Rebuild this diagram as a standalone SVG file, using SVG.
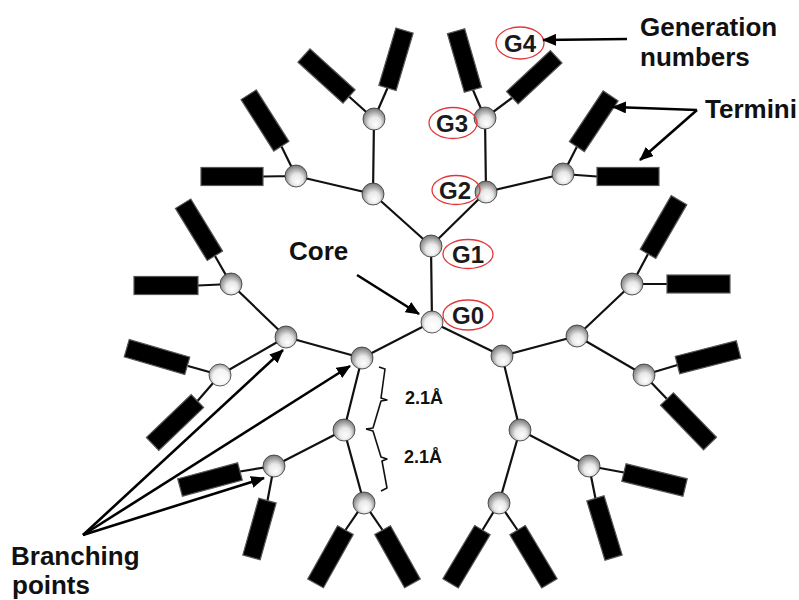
<svg xmlns="http://www.w3.org/2000/svg" width="799" height="600" viewBox="0 0 799 600">
<defs>
<radialGradient id="sph" cx="0.5" cy="0.55" r="0.6" fx="0.58" fy="0.78">
<stop offset="0" stop-color="#ffffff"/>
<stop offset="0.45" stop-color="#e8e8e8"/>
<stop offset="1" stop-color="#666666"/>
</radialGradient>
<radialGradient id="sphc" cx="0.5" cy="0.55" r="0.6" fx="0.6" fy="0.7">
<stop offset="0" stop-color="#ffffff"/>
<stop offset="0.6" stop-color="#f4f4f4"/>
<stop offset="1" stop-color="#8a8a8a"/>
</radialGradient>
<marker id="ah" markerUnits="userSpaceOnUse" markerWidth="14" markerHeight="12" refX="13" refY="6" orient="auto">
<path d="M0,0 L14,6 L0,12 z" fill="#000"/>
</marker>
</defs>
<style>
.b{stroke:#111;stroke-width:2.2;fill:none}
.t{fill:#000;stroke:#555;stroke-width:1.2}
.s{fill:url(#sph);stroke:#333;stroke-width:0.8}
.e{fill:none;stroke:#e0383b;stroke-width:1.3}
.g{font-family:"Liberation Sans",Arial,sans-serif;font-weight:bold;font-size:24px;fill:#1a1a1a;text-anchor:middle}
.lb{font-family:"Liberation Sans",Arial,sans-serif;font-weight:bold;font-size:26px;fill:#111}
.sm{font-family:"Liberation Sans",Arial,sans-serif;font-weight:bold;font-size:18px;fill:#111}
.a{stroke:#000;stroke-width:2.6;fill:none;marker-end:url(#ah)}
.br{stroke:#111;stroke-width:1.6;fill:none;stroke-linejoin:round}
</style>

<g id="connectors">
<path class="b" d="M432,322 L431,246 M432,322 L362,358 M432,322 L502,356
M431,246 L486,192 M431,246 L373,194
M486,192 L485,118 M486,192 L563,174
M373,194 L374,119 M373,194 L296,176
M362,358 L286,337 M362,358 L344,430
M286,337 L231,284 M286,337 L220,375
M344,430 L274,466 M344,430 L364,503
M502,356 L577,336 M502,356 L520,430
M577,336 L632,284 M577,336 L644,375
M520,430 L499,503 M520,430 L589,466
M485,118 L473,90 M485,118 L512.5,97.5
M563,174 L577,146.5 M563,174 L597,176.5
M374,119 L387.5,88 M374,119 L349,96.5
M296,176 L281.5,146.5 M296,176 L263,176.5
M231,284 L215,256 M231,284 L198,285.5
M220,375 L188,366 M220,375 L197.5,401
M274,466 L240,471.5 M274,466 L267.5,500.5
M364,503 L345.5,530 M364,503 L382.5,530
M499,503 L482.5,530 M499,503 L517.5,530
M589,466 L595.5,498.5 M589,466 L624,472.5
M644,375 L677.5,365 M644,375 L667,399
M632,284 L648,254 M632,284 L667,284"/>
</g>

<g id="termini">
<rect class="t" x="-30.5" y="-9" width="61" height="18" transform="translate(464.5,60.5) rotate(73.9)"/>
<rect class="t" x="-30" y="-8.5" width="60" height="17" transform="translate(534.25,77.25) rotate(-43)"/>
<rect class="t" x="-30.5" y="-9" width="61" height="18" transform="translate(593.75,121.25) rotate(-56.4)"/>
<rect class="t" x="-31" y="-9" width="62" height="18" transform="translate(628,176.5)"/>
<rect class="t" x="-30" y="-9" width="60" height="18" transform="translate(396,59.25) rotate(-73.5)"/>
<rect class="t" x="-30.5" y="-9" width="61" height="18" transform="translate(326.5,76) rotate(42.3)"/>
<rect class="t" x="-30.5" y="-9" width="61" height="18" transform="translate(265,120.5) rotate(57.6)"/>
<rect class="t" x="-31" y="-9" width="62" height="18" transform="translate(232,176.5)"/>
<rect class="t" x="-30.5" y="-9" width="61" height="18" transform="translate(199,229.75) rotate(58.6)"/>
<rect class="t" x="-32" y="-9" width="64" height="18" transform="translate(166,285.5)"/>
<rect class="t" x="-31.5" y="-9" width="63" height="18" transform="translate(157,357) rotate(16.2)"/>
<rect class="t" x="-31" y="-9" width="62" height="18" transform="translate(175,422.5) rotate(-43.7)"/>
<rect class="t" x="-31" y="-9" width="62" height="18" transform="translate(210,479.5) rotate(-15)"/>
<rect class="t" x="-29.5" y="-9" width="59" height="18" transform="translate(259.5,529) rotate(105.7)"/>
<rect class="t" x="-30.5" y="-9" width="61" height="18" transform="translate(330.5,556.75) rotate(119.3)"/>
<rect class="t" x="-30.5" y="-9" width="61" height="18" transform="translate(397.5,556.75) rotate(60.7)"/>
<rect class="t" x="-31" y="-9" width="62" height="18" transform="translate(466.5,556.75) rotate(120.9)"/>
<rect class="t" x="-31" y="-9" width="62" height="18" transform="translate(533.5,556.75) rotate(59.1)"/>
<rect class="t" x="-31" y="-9" width="62" height="18" transform="translate(604.5,528) rotate(73)"/>
<rect class="t" x="-31.5" y="-9" width="63" height="18" transform="translate(654.5,480) rotate(13.8)"/>
<rect class="t" x="-31.5" y="-9" width="63" height="18" transform="translate(708,357.25) rotate(-14.3)"/>
<rect class="t" x="-31" y="-9" width="62" height="18" transform="translate(688.5,421.3) rotate(46)"/>
<rect class="t" x="-31" y="-9" width="62" height="18" transform="translate(663.5,227) rotate(-60)"/>
<rect class="t" x="-31.5" y="-9" width="63" height="18" transform="translate(698.5,284)"/>
</g>

<g id="core"><circle cx="432" cy="322" r="11" fill="url(#sphc)" stroke="#333" stroke-width="0.8"/></g>
<g id="gen1">
<circle class="s" cx="431" cy="246" r="11"/>
<circle class="s" cx="362" cy="358" r="11"/>
<circle class="s" cx="502" cy="356" r="11"/>
</g>
<g id="gen2">
<circle class="s" cx="486" cy="192" r="11"/>
<circle class="s" cx="373" cy="194" r="11"/>
<circle class="s" cx="286" cy="337" r="11"/>
<circle class="s" cx="344" cy="430" r="11"/>
<circle class="s" cx="577" cy="336" r="11"/>
<circle class="s" cx="520" cy="430" r="11"/>
</g>
<g id="gen3">
<circle class="s" cx="485" cy="118" r="11"/>
<circle class="s" cx="563" cy="174" r="11"/>
<circle class="s" cx="374" cy="119" r="11"/>
<circle class="s" cx="296" cy="176" r="11"/>
<circle class="s" cx="231" cy="284" r="11"/>
<circle cx="220" cy="375" r="11" fill="url(#sphc)" stroke="#333" stroke-width="0.8"/>
<circle class="s" cx="274" cy="466" r="11"/>
<circle class="s" cx="364" cy="503" r="11"/>
<circle class="s" cx="499" cy="503" r="11"/>
<circle class="s" cx="589" cy="466" r="11"/>
<circle class="s" cx="632" cy="284" r="11"/>
<circle class="s" cx="644" cy="375" r="11"/>
</g>

<g id="label-G4"><ellipse class="e" cx="520" cy="43" rx="24" ry="16"/><text class="g" x="520" y="51.5">G4</text></g>
<g id="label-G3"><ellipse class="e" cx="453" cy="123" rx="24" ry="15.5"/><text class="g" x="452" y="131.5">G3</text></g>
<g id="label-G2"><ellipse class="e" cx="456" cy="190" rx="24" ry="14.5"/><text class="g" x="455" y="198.5">G2</text></g>
<g id="label-G1"><ellipse class="e" cx="468" cy="254" rx="25" ry="14.5"/><text class="g" x="468" y="262.5">G1</text></g>
<g id="label-G0"><ellipse class="e" cx="468" cy="315" rx="25" ry="15"/><text class="g" x="468" y="323.5">G0</text></g>

<g id="brackets">
<path class="br" d="M379,367 L385,369 L381,398 L387,400 L381,401 L373,428 L366,429"/>
<path class="br" d="M366,429 L373,431 L381,457 L387,459 L382,461 L387,488 L381,491"/>
<text class="sm" x="405" y="404">2.1Å</text>
<text class="sm" x="404" y="463">2.1Å</text>
</g>

<g id="annotations">
<text class="lb" x="640" y="36">Generation</text>
<text class="lb" x="640" y="66">numbers</text>
<text class="lb" x="705" y="118">Termini</text>
<text class="lb" x="289" y="260">Core</text>
<text class="lb" x="11" y="565">Branching</text>
<text class="lb" x="12" y="594">points</text>
<path class="a" d="M627,39 L543,40"/>
<path class="a" d="M697,110 L613,107"/>
<path class="a" d="M697,110 L640,160"/>
<path class="a" d="M357,275 L419,314"/>
<path class="a" d="M83,535 L283,350"/>
<path class="a" d="M83,535 L350,366"/>
<path class="a" d="M83,535 L264,478"/>
</g>
</svg>
